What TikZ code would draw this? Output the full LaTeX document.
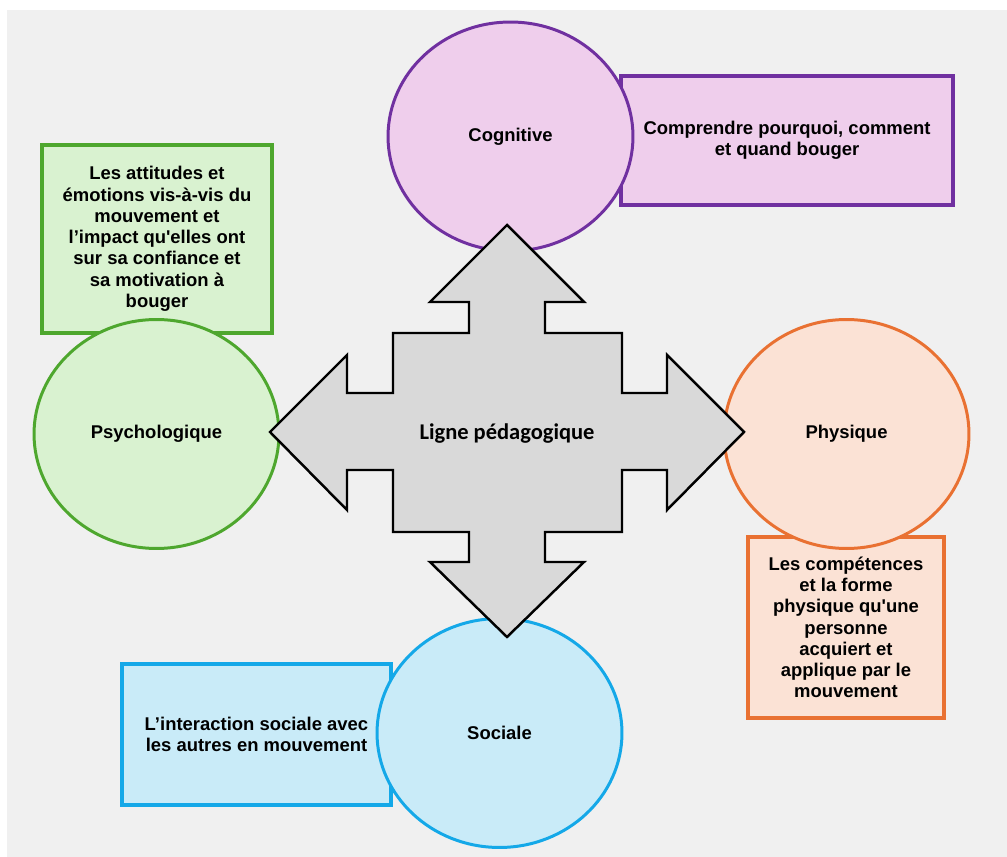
\documentclass[tikz,border=0pt]{standalone}
\usepackage{fontspec}
\setmainfont{Liberation Sans}
\newfontfamily\carlito{Carlito}
\usepackage{xcolor}
\usepackage{tikz}
\usetikzlibrary{shapes.geometric}

\definecolor{bgGrey}{RGB}{240,240,240}
\definecolor{arrowGrey}{RGB}{217,217,217}
\definecolor{cogLine}{RGB}{112,48,160}
\definecolor{cogFill}{RGB}{239,206,236}
\definecolor{psyLine}{RGB}{78,167,46}
\definecolor{psyFill}{RGB}{217,242,208}
\definecolor{phyLine}{RGB}{233,113,50}
\definecolor{phyFill}{RGB}{251,226,213}
\definecolor{socLine}{RGB}{20,168,232}
\definecolor{socFill}{RGB}{201,235,248}

\begin{document}
\begin{tikzpicture}[
  x=0.02cm,y=-0.02cm,
  txt/.style={font=\fontsize{10.5}{12.1}\selectfont\bfseries,align=center},
  dom/.style={ellipse,txt,line width=1.7pt,inner sep=0pt,minimum width=4.9cm,minimum height=4.58cm},
  info/.style={rectangle,txt,line width=2pt,inner sep=0pt},
  bigarrow/.style={draw=black,fill=arrowGrey,line width=1.4pt,line join=miter}
]
\useasboundingbox (0,0) rectangle (1007,857);
\fill[bgGrey] (7,10) rectangle (1007,857);

\node[info,draw=psyLine,fill=psyFill,minimum width=4.6cm,minimum height=3.76cm] (psytext) at (157,239) {Les attitudes et\\émotions vis-à-vis du\\mouvement et\\l’impact qu\textquotesingle elles ont\\sur sa confiance et\\sa motivation à\\bouger};
\node[info,draw=cogLine,fill=cogFill,minimum width=6.64cm,minimum height=2.58cm] (cogtext) at (787,140.5) {Comprendre pourquoi, comment\\et quand bouger};
\node[info,draw=phyLine,fill=phyFill,minimum width=3.92cm,minimum height=3.62cm] (phytext) at (846,627.5) {Les compétences\\et la forme\\physique qu\textquotesingle une\\personne\\acquiert et\\applique par le\\mouvement};
\node[info,draw=socLine,fill=socFill,minimum width=5.38cm,minimum height=2.82cm] (soctext) at (256.5,734.5) {L’interaction sociale avec\\les autres en mouvement};

\node[dom,draw=cogLine,fill=cogFill] (cog) at (510.5,136.5) {Cognitive};
\node[dom,draw=psyLine,fill=psyFill] (psy) at (156.5,434) {Psychologique};
\node[dom,draw=phyLine,fill=phyFill] (phy) at (846.5,434) {Physique};
\node[dom,draw=socLine,fill=socFill] (soc) at (499.5,733) {Sociale};

\draw[bigarrow] (507,225) -- (584,302) -- (545,302) -- (545,333) -- (622,333)
  -- (622,393) -- (667,393) -- (667,355) -- (744,432) -- (667,510) -- (667,470)
  -- (622,470) -- (622,532) -- (545,532) -- (545,562) -- (584,562) -- (507,637)
  -- (430,562) -- (469,562) -- (469,532) -- (393,532) -- (393,470) -- (347,470)
  -- (347,510) -- (270,432) -- (347,355) -- (347,393) -- (393,393) -- (393,333)
  -- (469,333) -- (469,302) -- (430,302) -- cycle;
\node[font=\carlito\fontsize{12.8}{15}\selectfont\bfseries] (ligne) at (507,434) {Ligne pédagogique};
\end{tikzpicture}
\end{document}
